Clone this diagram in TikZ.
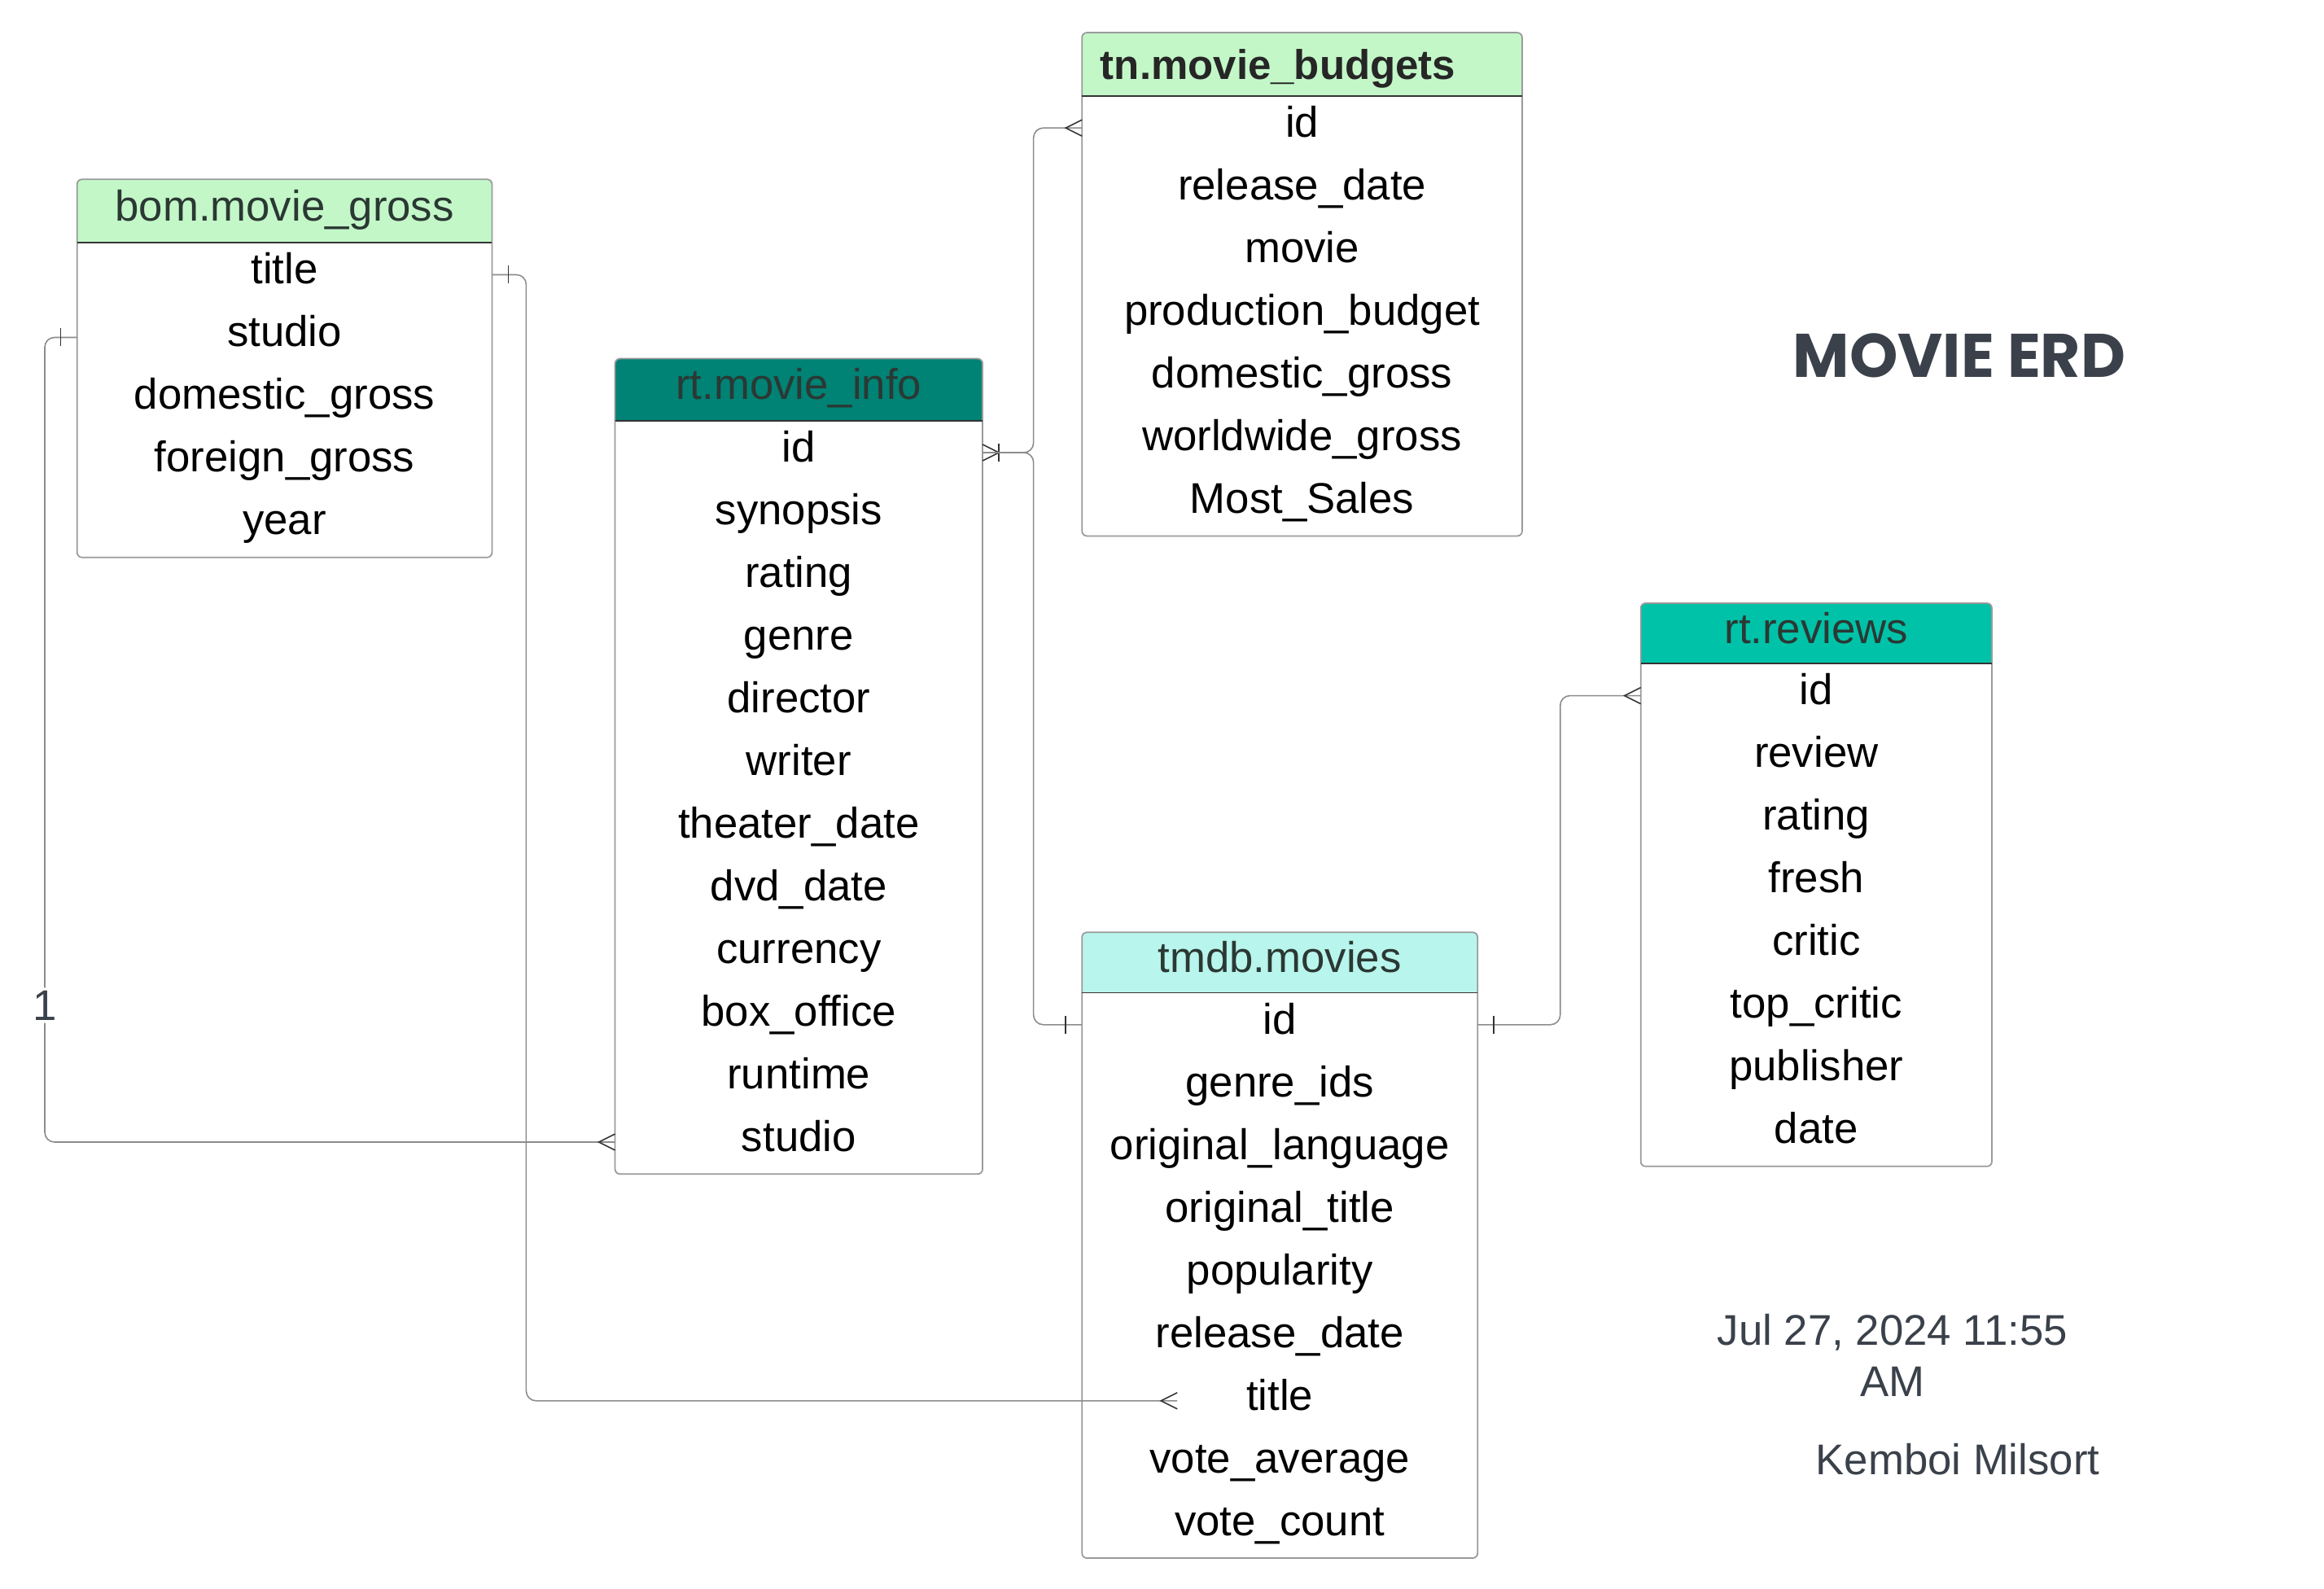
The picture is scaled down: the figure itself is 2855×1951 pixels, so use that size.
\documentclass[tikz,border=0pt]{standalone}
\usepackage{fontspec}
\setmainfont{Liberation Sans}
\newfontfamily\titlefont{Poppins}
\usetikzlibrary{calc, positioning, decorations.markings}
\pgfdeclarelayer{background}
\pgfsetlayers{background,main}

\definecolor{bomgreen}{HTML}{C3F7C8}
\definecolor{infoteal}{HTML}{008275}
\definecolor{tmdbcyan}{HTML}{B8F5EC}
\definecolor{reviewteal}{HTML}{00C2A8}
\definecolor{headtext}{HTML}{2B3833}
\definecolor{inkgray}{HTML}{3A414A}
\definecolor{framegray}{HTML}{9A9A9A}
\definecolor{conngray}{HTML}{8C8C8C}
\definecolor{markdark}{HTML}{333333}

\tikzset{
  tablehead/.style={inner sep=0pt, text=headtext, font=\fontsize{15}{18}\selectfont,
    text height=13.6pt, text depth=6.6pt},
  field/.style={inner sep=0pt, minimum height=7.7mm, font=\fontsize{15}{18}\selectfont,
    text height=13.6pt, text depth=7.2pt},
  tableframe/.style={draw=framegray, line width=0.5pt, rounded corners=0.6mm},
  headline/.style={draw=markdark, line width=0.5pt},
  conn/.style={draw=conngray, line width=0.45pt, rounded corners=1.2mm},
  marker/.style={draw=markdark, line width=0.45pt, rounded corners=0pt},
  infotext/.style={text=inkgray, font=\fontsize{15}{18.1}\selectfont},
  % crow's foot notation
  one start/.style={postaction={decorate, decoration={markings,
    mark=at position 0 with {\draw[marker] (20,-11) -- (20,11);}}}},
  one end/.style={postaction={decorate, decoration={markings,
    mark=at position 1 with {\draw[marker] (-20,-11) -- (-20,11);}}}},
  many start/.style={postaction={decorate, decoration={markings,
    mark=at position 0 with {\draw[marker] (0,-10) -- (20,0) -- (0,10);}}}},
  many end/.style={postaction={decorate, decoration={markings,
    mark=at position 1 with {\draw[marker] (0,-10) -- (-20,0) -- (0,10);}}}},
}

% #1 name, #2 top left, #3 width, #4 header height, #5 header colour,
% #6 header options, #7 header text, #8 fields
\newcommand{\erdtable}[8]{%
  \node[tablehead, minimum width=#3*0.1mm, minimum height=#4*0.1mm,
        anchor=north west, #6] (#1) at #2 {#7};
  \begin{pgfonlayer}{background}
    \fill[#5, rounded corners=0.6mm] (#1.north west) rectangle (#1.south east);
    \fill[#5] (#1.west) rectangle (#1.south east);
  \end{pgfonlayer}
  \foreach \fld [count=\i] in {#8} {
    \node[field, minimum width=#3*0.1mm, anchor=north] (#1-\i)
      at ($(#1.south)+(0,{77*(\i-1)})$) {\fld};
    \xdef\nrows{\i}
  }
  \draw[tableframe] (#1.north west) rectangle (#1-\nrows.south east);
  \draw[headline] (#1.south west) -- (#1.south east);
}

\begin{document}
\begin{tikzpicture}[x=0.01cm, y=-0.01cm]
  \useasboundingbox (0,0) rectangle (2855,1951);

  % --- Tables ---
  \erdtable{bom}{(94.7,220.3)}{508}{76.5}{bomgreen}{}{bom.movie\_gross}
    {title,studio,domestic\_gross,foreign\_gross,year}
  \erdtable{info}{(755.6,440.6)}{449.8}{74.7}{infoteal}{}{rt.movie\_info}
    {id,synopsis,rating,genre,director,writer,theater\_date,dvd\_date,currency,box\_office,runtime,studio}
  \erdtable{tn}{(1329.2,40.1)}{539}{76.4}{bomgreen}
    {text=black!85, text width=4.95cm, align=left, text depth=3.2pt,
     font=\bfseries\fontsize{14.5}{17}\selectfont}
    {tn.movie\_budgets}
    {id,release\_date,movie,production\_budget,domestic\_gross,worldwide\_gross,Most\_Sales}
  \erdtable{tmdb}{(1329.2,1145.3)}{484.3}{72.8}{tmdbcyan}{}{tmdb.movies}
    {id,genre\_ids,original\_language,original\_title,popularity,release\_date,title,vote\_average,vote\_count}
  \erdtable{rev}{(2015.6,741)}{429.7}{72.9}{reviewteal}{}{rt.reviews}
    {id,review,rating,fresh,critic,top\_critic,publisher,date}

  % --- Relations ---
  \coordinate (titleend) at ($(tmdb-7.west)+(117,0)$);
  \draw[conn, one start, many end] (bom-1.east) -- ++(42,0) |- (titleend);
  \draw[conn, one start, many end] (bom-2.west) -- ++(-39.7,0) |-
    node[pos=0.415, fill=white, inner sep=1pt, infotext] (one) {1} (info-12.west);
  \draw[conn, one start, many start, many end] (info-1.east) -- ++(62.6,0) |- (tn-1.west);
  \draw[conn, one end] (info-1.east) -- ++(62.6,0) |- (tmdb-1.west);
  \draw[conn, one start, many end] (tmdb-1.east) -- ++(101.5,0) |- (rev-1.west);

  % --- Title and stamp ---
  \node[text=inkgray, font=\titlefont\bfseries\fontsize{21.5}{26}\selectfont] (title)
    at (2407,437) {MOVIE ERD};
  \node[infotext, align=center] (stamp) at (2325,1665) {Jul 27, 2024 11:55\\AM};
  \node[infotext] (author) at (2405,1793) {Kemboi Milsort};
\end{tikzpicture}
\end{document}
